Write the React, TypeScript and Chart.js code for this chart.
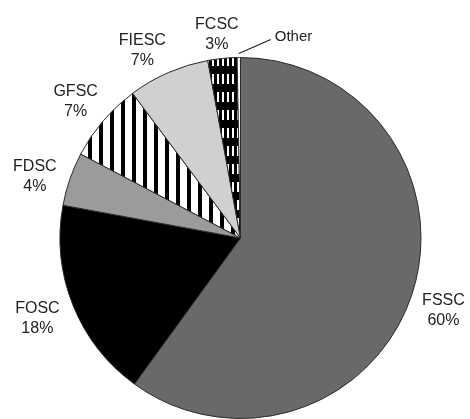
import React, { useEffect, useRef } from "react";
import { Chart, registerables } from "chart.js";

Chart.register(...registerables);

const categories = ["FSSC", "FOSC", "FDSC", "GFSC", "FIESC", "FCSC", "Other"];
const values = [60, 17.9, 4.8, 7.1, 7.3, 2.6, 0.3];
const percentLabels = ["60%", "18%", "4%", "7%", "7%", "3%", ""];

// label nudges (style only), relative to the point 35px outside the arc's mid-angle
const labelNudges: [number, number][] = [
  [-2, 6],
  [-3, 1],
  [-2, 9],
  [-1, 4],
  [-12, 10],
  [-2, 11],
  [0, 0],
];

function stripePattern(): CanvasPattern | string {
  const c = document.createElement("canvas");
  c.width = 11;
  c.height = 11;
  const x = c.getContext("2d");
  if (!x) return "#777";
  x.fillStyle = "#ffffff";
  x.fillRect(0, 0, 11, 11);
  x.fillStyle = "#000000";
  x.fillRect(0, 0, 4, 11);
  return x.createPattern(c, "repeat") as CanvasPattern;
}

function dashPattern(): CanvasPattern | string {
  const c = document.createElement("canvas");
  c.width = 5;
  c.height = 18;
  const x = c.getContext("2d");
  if (!x) return "#222";
  x.fillStyle = "#000000";
  x.fillRect(0, 0, 5, 18);
  x.fillStyle = "#ffffff";
  x.fillRect(2, 2, 2, 10);
  return x.createPattern(c, "repeat") as CanvasPattern;
}

const labelPlugin = {
  id: "outerLabels",
  afterDraw(chart: any) {
    const ctx = chart.ctx as CanvasRenderingContext2D;
    const meta = chart.getDatasetMeta(0);
    ctx.save();
    ctx.fillStyle = "#222";
    ctx.font = "16px 'Liberation Sans', Arial, sans-serif";
    ctx.textBaseline = "middle";
    meta.data.forEach((arc: any, i: number) => {
      const { x, y, startAngle, endAngle, outerRadius } = arc.getProps(
        ["x", "y", "startAngle", "endAngle", "outerRadius"],
        true
      );
      const mid = (startAngle + endAngle) / 2;
      const dx = Math.cos(mid);
      const dy = Math.sin(mid);
      if (categories[i] === "Other") {
        const sx = x + (outerRadius + 4) * dx;
        const sy = y + (outerRadius + 4) * dy;
        const ex = sx + 32;
        const ey = sy - 14;
        ctx.strokeStyle = "#222";
        ctx.lineWidth = 1.3;
        ctx.beginPath();
        ctx.moveTo(sx, sy);
        ctx.lineTo(ex, ey);
        ctx.stroke();
        ctx.textAlign = "left";
        ctx.font = "15px 'Liberation Sans', Arial, sans-serif";
        ctx.fillText(categories[i], ex + 4, ey - 3);
        return;
      }
      const r = outerRadius + 35;
      const lx = x + r * dx + labelNudges[i][0];
      const ly = y + r * dy + labelNudges[i][1];
      ctx.textAlign = "center";
      ctx.fillText(categories[i], lx, ly - 10);
      ctx.fillText(percentLabels[i], lx, ly + 10);
    });
    ctx.restore();
  },
};

export default function App() {
  const ref = useRef<HTMLCanvasElement | null>(null);
  useEffect(() => {
    if (!ref.current) return;
    const colors = [
      "#696969",
      "#000000",
      "#9b9b9b",
      stripePattern(),
      "#d0d0d0",
      dashPattern(),
      "#ffffff",
    ];
    const chart = new Chart(ref.current, {
      type: "pie",
      data: {
        labels: categories,
        datasets: [
          {
            data: values,
            backgroundColor: colors as any,
            borderColor: "#2a2a2a",
            borderWidth: 1,
          },
        ],
      },
      options: {
        responsive: false,
        animation: false,
        layout: { padding: { left: 59, top: 57, right: 48, bottom: 0 } },
        plugins: {
          legend: { display: false },
          tooltip: { enabled: false },
        },
      },
      plugins: [labelPlugin],
    });
    return () => chart.destroy();
  }, []);
  return (
    <div style={{ position: "absolute", left: 0, top: 0, width: 470, height: 419, background: "#fff" }}>
      <canvas ref={ref} width={470} height={419} />
    </div>
  );
}
